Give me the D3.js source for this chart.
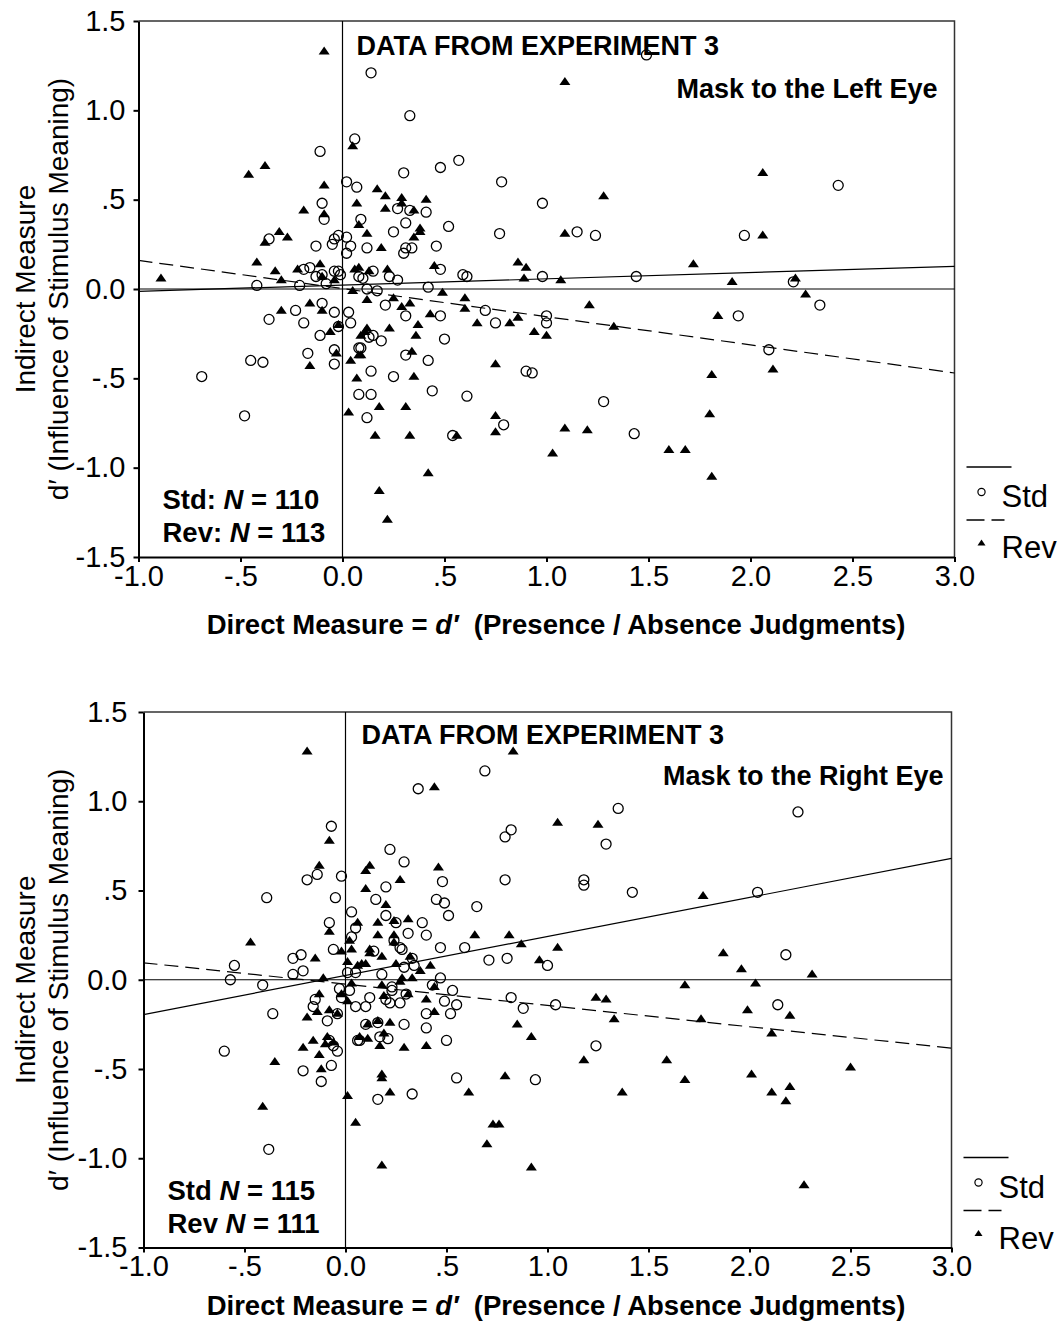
<!DOCTYPE html>
<html>
<head>
<script src="https://cdn.jsdelivr.net/npm/d3@7"></script>
<style>
  body { margin: 0; background: #fff; }
  svg { display: block; font-family: "Liberation Sans", Arial, sans-serif; }
  .axis path, .axis line { stroke: #000; stroke-width: 2px; }
  .axis text { font-size: 29px; fill: #000; font-family: "Liberation Sans", Arial, sans-serif; }
  .frame { fill: none; stroke: #333; stroke-width: 1.5px; }
  .ref { stroke: #000; stroke-width: 1.2px; }
  .fit { fill: none; stroke: #000; stroke-width: 1.2px; }
  .fit.rev { stroke-dasharray: 14,7; }
  .std-pt { fill: none; stroke: #000; stroke-width: 1.3px; }
  .rev-pt { fill: #000; stroke: none; }
  .ytitle { font-size: 28px; }
  .xtitle { font-size: 27.5px; font-weight: bold; white-space: pre; }
  .note { font-weight: bold; white-space: pre; font-size: 27px; }
  .count { font-size: 27.5px; }
  .legend text { font-size: 31px; }
</style>
</head>
<body>
<script>
// tick values and labels (same for both panels)
var xTicks = [-1, -0.5, 0, 0.5, 1, 1.5, 2, 2.5, 3];
var xTickLabels = ["-1.0", "-.5", "0.0", ".5", "1.0", "1.5", "2.0", "2.5", "3.0"];
var yTicks = [-1.5, -1, -0.5, 0, 0.5, 1, 1.5];
var yTickLabels = ["-1.5", "-1.0", "-.5", "0.0", ".5", "1.0", "1.5"];

// mask to the left eye: [direct d', indirect d']
var leftStd = [
  [0.06,0.84],[-0.11,0.77],[0.02,0.60],[0.07,0.57],[-0.10,0.48],[-0.09,0.39],[0.09,0.39],[-0.36,0.28],
  [-0.13,0.24],[-0.05,0.25],[-0.04,0.28],[-0.02,0.30],[0.02,0.29],[0.04,0.24],[0.02,0.20],[-0.19,0.11],
  [-0.16,0.12],[-0.13,0.07],[-0.10,0.08],[-0.08,0.03],[-0.04,0.10],[-0.02,0.10],[-0.01,0.08],[0.08,0.07],
  [-0.42,0.02],[-0.21,0.02],[-0.10,-0.08],[-0.23,-0.12],[-0.36,-0.17],[-0.19,-0.19],[-0.04,-0.13],[0.03,-0.13],
  [0.04,-0.19],[-0.02,-0.21],[-0.11,-0.26],[0.08,-0.33],[-0.04,-0.34],[-0.17,-0.36],[-0.45,-0.40],[-0.39,-0.41],
  [-0.04,-0.42],[-0.69,-0.49],[0.08,-0.59],[-0.48,-0.71],
  [0.21,-0.09],[0.31,-0.15],[0.48,-0.15],[0.70,-0.12],[0.75,-0.19],[1.00,-0.15],[1.00,-0.19],[0.15,-0.26],
  [0.13,-0.27],[0.19,-0.29],[0.50,-0.28],[0.09,-0.33],[0.31,-0.37],[0.42,-0.40],[0.90,-0.46],[0.93,-0.47],
  [0.14,-0.46],[0.25,-0.49],[0.44,-0.57],[0.14,-0.59],[0.61,-0.60],[1.28,-0.63],[0.12,-0.72],[0.79,-0.76],
  [0.54,-0.82],[1.43,-0.81],[2.34,-0.09],[1.94,-0.15],[2.09,-0.34],[2.43,0.58],[1.97,0.30],[2.21,0.04],
  [0.14,1.21],[1.49,1.31],[0.33,0.97],[0.57,0.72],[0.48,0.68],[0.30,0.65],[0.78,0.60],[0.98,0.48],
  [0.27,0.45],[0.33,0.44],[0.41,0.43],[0.25,0.32],[0.31,0.37],[0.52,0.35],[0.77,0.31],[1.15,0.32],
  [1.24,0.30],[0.12,0.23],[0.30,0.20],[0.31,0.23],[0.34,0.23],[0.46,0.24],[0.15,0.10],[0.23,0.07],
  [0.27,0.05],[0.10,0.06],[0.48,0.11],[0.59,0.08],[0.61,0.07],[0.98,0.07],[1.44,0.07],[0.12,0.00],
  [0.17,-0.01],[0.42,0.01]
];
var leftRev = [
  [-0.09,1.33],[0.05,0.80],[-0.46,0.64],[-0.38,0.69],[-0.09,0.58],[-0.19,0.44],[-0.09,0.42],[0.07,0.48],
  [0.08,0.36],[-0.31,0.32],[-0.27,0.29],[-0.38,0.26],[-0.42,0.15],[-0.33,0.10],[-0.30,0.05],[-0.22,0.11],
  [-0.11,0.14],[-0.10,0.07],[-0.04,0.05],[0.06,0.11],[-0.89,0.06],[0.05,-0.01],[-0.16,-0.08],[-0.10,-0.12],
  [-0.30,-0.12],[-0.02,-0.20],[-0.06,-0.24],[0.09,-0.26],[-0.03,-0.36],[0.08,-0.37],[0.04,-0.40],[-0.16,-0.43],
  [0.07,-0.50],[0.03,-0.69],
  [0.29,-0.10],[0.43,-0.14],[0.60,-0.11],[0.37,-0.20],[0.23,-0.22],[0.66,-0.19],[0.82,-0.19],[0.86,-0.16],
  [1.21,-0.09],[1.33,-0.21],[0.12,-0.22],[0.11,-0.24],[0.36,-0.26],[0.94,-0.24],[1.00,-0.26],[0.09,-0.37],
  [0.34,-0.35],[0.75,-0.42],[0.35,-0.49],[0.18,-0.66],[0.31,-0.66],[0.75,-0.71],[0.75,-0.80],[0.16,-0.82],
  [0.33,-0.82],[0.56,-0.82],[1.09,-0.78],[1.20,-0.79],[1.03,-0.92],[1.60,-0.90],[1.68,-0.90],[0.42,-1.03],
  [0.18,-1.13],[0.22,-1.29],
  [1.84,-0.15],[2.11,-0.45],[1.81,-0.48],[1.80,-0.70],[1.81,-1.05],[2.06,0.65],[2.06,0.30],[1.91,0.04],
  [2.22,0.06],[2.27,-0.03],
  [1.09,1.16],[0.17,0.56],[0.21,0.52],[0.29,0.51],[0.41,0.50],[1.28,0.52],[0.29,0.48],[0.21,0.45],
  [0.35,0.44],[0.12,0.31],[0.38,0.34],[0.38,0.32],[0.35,0.29],[1.09,0.31],[0.19,0.23],[0.08,0.12],
  [0.13,0.10],[0.22,0.11],[0.45,0.13],[0.86,0.15],[0.90,0.12],[0.89,0.06],[1.07,0.05],[1.72,0.14],
  [0.12,-0.06],[0.49,-0.02],[0.25,-0.05],[0.60,-0.05],[0.33,-0.08]
];

// mask to the right eye
var rightStd = [
  [-0.07,0.86],[-0.14,0.59],[-0.19,0.56],[-0.02,0.58],[-0.39,0.46],[-0.05,0.46],[0.03,0.38],[-0.08,0.32],
  [0.05,0.29],[0.03,0.24],[-0.06,0.17],[-0.26,0.12],[-0.22,0.14],[-0.55,0.08],[-0.26,0.03],[-0.21,0.05],
  [0.01,0.04],[0.05,0.04],[-0.57,0.00],[-0.41,-0.03],[-0.03,-0.05],[0.02,-0.06],[-0.02,-0.10],[-0.15,-0.11],
  [-0.16,-0.15],[0.05,-0.15],[-0.36,-0.19],[-0.04,-0.19],
  [-0.09,-0.23],[-0.08,-0.34],[-0.06,-0.37],[-0.04,-0.40],[0.06,-0.34],[-0.60,-0.40],[-0.21,-0.51],[-0.07,-0.48],
  [-0.12,-0.57],[-0.38,-0.95],
  [0.10,-0.15],[0.12,-0.10],[0.20,-0.11],[0.22,-0.13],[0.27,-0.13],[0.23,-0.06],[0.30,-0.08],[0.49,-0.12],
  [0.55,-0.14],[0.53,-0.06],[0.82,-0.10],[0.88,-0.16],[1.04,-0.14],[0.40,-0.19],[0.40,-0.27],[0.52,-0.19],
  [0.10,-0.25],[0.16,-0.24],[0.29,-0.25],[0.07,-0.34],[0.17,-0.32],[0.21,-0.33],[0.50,-0.34],[1.24,-0.37],
  [0.55,-0.55],[0.94,-0.56],[0.33,-0.64],[0.16,-0.67],
  [2.14,-0.14],[2.24,0.94],[2.04,0.49],[2.18,0.14],
  [0.69,1.17],[0.36,1.07],[1.35,0.96],[0.82,0.84],[0.79,0.80],[1.29,0.76],[0.22,0.73],[0.29,0.66],
  [0.79,0.56],[1.18,0.56],[1.18,0.53],[0.48,0.55],[0.20,0.52],[1.42,0.49],[0.15,0.45],[0.45,0.45],
  [0.49,0.43],[0.51,0.36],[0.65,0.41],[0.20,0.36],[0.25,0.32],[0.38,0.32],[0.31,0.26],[0.40,0.25],
  [0.24,0.22],[0.27,0.18],[0.28,0.17],[0.47,0.18],[0.59,0.18],[0.71,0.11],[0.80,0.12],[1.00,0.08],
  [0.33,0.12],[0.34,0.08],[0.29,0.07],[0.14,0.16],[0.18,0.03],[0.47,0.01],[0.43,-0.03],[0.23,-0.04]
];
var rightRev = [
  [-0.19,1.28],[-0.08,0.78],[-0.13,0.64],[-0.08,0.27],[0.06,0.32],[-0.47,0.21],[0.02,0.22],[-0.02,0.16],
  [0.03,0.17],[-0.15,0.12],[0.01,0.10],[0.06,0.08],[-0.11,0.01],[0.03,-0.02],[-0.13,-0.08],[-0.02,-0.08],
  [0.01,-0.12],[-0.14,-0.18],[-0.08,-0.17],[-0.04,-0.19],[-0.19,-0.21],
  [-0.16,-0.34],[-0.21,-0.38],[-0.13,-0.42],[-0.09,-0.32],[-0.06,-0.35],[-0.10,-0.36],[-0.35,-0.46],[-0.12,-0.50],
  [0.01,-0.65],[-0.41,-0.71],[0.05,-0.80],
  [0.19,-0.09],[0.31,-0.08],[0.40,-0.11],[1.24,-0.10],[1.29,-0.11],[1.33,-0.22],[0.44,-0.18],[0.11,-0.25],
  [0.16,-0.23],[0.22,-0.24],[0.07,-0.32],[0.11,-0.33],[0.19,-0.30],[0.17,-0.37],[0.29,-0.38],[0.40,-0.37],
  [0.85,-0.25],[0.92,-0.32],[1.18,-0.45],[1.59,-0.45],[1.68,-0.56],[0.18,-0.53],[0.18,-0.55],[0.22,-0.63],
  [0.61,-0.63],[0.79,-0.54],[1.37,-0.63],[0.73,-0.81],[0.76,-0.81],[0.70,-0.92],[0.18,-1.04],[0.92,-1.05],
  [1.99,-0.17],[2.20,-0.20],[2.11,-0.30],[1.76,-0.22],[2.50,-0.49],[2.01,-0.53],[2.11,-0.63],[2.20,-0.60],
  [2.18,-0.68],[2.27,-1.15],
  [1.77,0.47],[1.87,0.15],[1.96,0.06],[2.31,0.03],[2.03,-0.02],
  [0.83,1.28],[0.44,1.08],[1.05,0.88],[1.25,0.87],[0.12,0.64],[0.10,0.61],[0.46,0.63],[0.27,0.56],
  [0.10,0.51],[0.20,0.42],[0.16,0.32],[0.24,0.33],[0.31,0.34],[0.16,0.25],[0.24,0.25],[0.64,0.25],
  [0.81,0.25],[0.24,0.21],[0.87,0.20],[1.05,0.18],[0.12,0.17],[0.18,0.13],[0.12,0.15],[0.32,0.13],
  [0.96,0.11],[0.08,0.09],[0.10,0.09],[0.25,0.09],[0.42,0.08],[0.37,0.05],[0.33,0.01],[0.28,0.01],
  [0.27,-0.01],[1.68,-0.03],[0.18,-0.03],[0.44,-0.04]
];

// fitted regression lines, end points at x = -1 and x = 3
var leftFitStd = [[-1, -0.013], [3, 0.127]];
var leftFitRev = [[-1, 0.16], [3, -0.47]];
var rightFitStd = [[-1, -0.195], [3, 0.68]];
var rightFitRev = [[-1, 0.095], [3, -0.383]];

var panelTitles = ["Mask to the Left Eye", "Mask to the Right Eye"];
var countLines = [["Std: ", "110", "Rev: ", "113"], ["Std ", "115", "Rev ", "111"]];

var svg = d3.select("body").append("svg")
    .attr("width", 1060)
    .attr("height", 1325);

var triPath = function(w, h) {
  return "M0," + (-h * 0.6) + "L" + (w / 2) + "," + (h * 0.4) + "L" + (-w / 2) + "," + (h * 0.4) + "Z";
};

function draw_panel(p) {
  var g = svg.append("g");

  var x = d3.scaleLinear().domain([-1, 3]).range([p.left, p.right]);
  var y = d3.scaleLinear().domain([-1.5, 1.5]).range([p.bottom, p.top]);

  // top / right frame
  g.append("path").attr("class", "frame")
    .attr("d", "M" + p.left + "," + p.top + "H" + p.right + "V" + p.bottom);

  // zero reference lines
  g.append("line").attr("class", "ref")
    .attr("x1", x(-1)).attr("x2", x(3)).attr("y1", y(0)).attr("y2", y(0));
  g.append("line").attr("class", "ref")
    .attr("x1", x(0)).attr("x2", x(0)).attr("y1", y(-1.5)).attr("y2", y(1.5));

  // axes
  g.append("g").attr("class", "axis")
    .attr("transform", "translate(0," + p.bottom + ")")
    .call(d3.axisBottom(x).tickValues(xTicks)
      .tickFormat(function(d, i) { return xTickLabels[i]; })
      .tickSize(5).tickSizeOuter(0).tickPadding(3));
  g.append("g").attr("class", "axis")
    .attr("transform", "translate(" + p.left + ",0)")
    .call(d3.axisLeft(y).tickValues(yTicks)
      .tickFormat(function(d, i) { return yTickLabels[i]; })
      .tickSize(5).tickSizeOuter(0).tickPadding(p.ypad));

  // regression lines
  var line = d3.line().x(function(d) { return x(d[0]); }).y(function(d) { return y(d[1]); });
  g.append("path").attr("class", "fit std").attr("d", line(p.fitStd));
  g.append("path").attr("class", "fit rev").attr("d", line(p.fitRev));

  // points
  g.selectAll(".std-pt").data(p.std).enter().append("circle")
    .attr("class", "std-pt")
    .attr("r", 5)
    .attr("cx", function(d) { return x(d[0]); })
    .attr("cy", function(d) { return y(d[1]); });
  g.selectAll(".rev-pt").data(p.rev).enter().append("path")
    .attr("class", "rev-pt")
    .attr("d", triPath(11, 8))
    .attr("transform", function(d) { return "translate(" + x(d[0]) + "," + y(d[1]) + ")"; });

  // annotations
  g.append("text").attr("class", "note")
    .attr("x", p.left + 218).attr("y", p.top + p.noteY[0])
    .text("DATA FROM EXPERIMENT 3");
  g.append("text").attr("class", "note")
    .attr("x", p.right - p.titleRight).attr("y", p.top + p.noteY[1])
    .attr("text-anchor", "end")
    .text(p.title);

  var c = p.counts;
  [[c[0], c[1]], [c[2], c[3]]].forEach(function(row, i) {
    var t = g.append("text").attr("class", "note count")
      .attr("x", p.left + 24).attr("y", p.bottom - 48 + i * 33);
    t.append("tspan").text(row[0]);
    t.append("tspan").style("font-style", "italic").text("N");
    t.append("tspan").text(" = " + row[1]);
  });

  // y axis title
  var yt = g.append("text").attr("class", "ytitle")
    .attr("transform", "translate(" + 35 + "," + y(0) + ") rotate(-90)")
    .attr("text-anchor", "middle");
  yt.append("tspan").attr("x", 0).attr("y", 0).text("Indirect Measure");
  yt.append("tspan").attr("x", 0).attr("y", 33).text("d\u2032 (Influence of Stimulus Meaning)");

  // x axis title
  var xt = g.append("text").attr("class", "xtitle")
    .attr("x", 556).attr("y", p.xTitleY)
    .attr("text-anchor", "middle");
  xt.append("tspan").text("Direct Measure = ");
  xt.append("tspan").style("font-style", "italic").text("d\u2032");
  xt.append("tspan").text("  (Presence / Absence Judgments)");

  // legend
  var lg = g.append("g").attr("class", "legend")
    .attr("transform", "translate(" + p.right + "," + p.bottom + ")");
  lg.append("line").attr("x1", 12).attr("x2", 57).attr("y1", -90).attr("y2", -90)
    .attr("stroke", "#000").attr("stroke-width", 1.3);
  lg.append("circle").attr("cx", 27).attr("cy", -65).attr("r", 3.6)
    .attr("fill", "none").attr("stroke", "#000").attr("stroke-width", 1.2);
  lg.append("text").attr("x", 47).attr("y", -50).text("Std");
  lg.append("line").attr("x1", 12).attr("x2", 50).attr("y1", -37).attr("y2", -37)
    .attr("stroke", "#000").attr("stroke-width", 1.3).attr("stroke-dasharray", "18,7");
  lg.append("path").attr("d", triPath(8, 6)).attr("transform", "translate(27,-14)");
  lg.append("text").attr("x", 47).attr("y", 1).text("Rev");
}

var panels = [
  { left: 138.5, right: 954.5, top: 21, bottom: 557, ypad: 8,
    noteY: [34, 77], titleRight: 17, xTitleY: 634,
    std: leftStd, rev: leftRev, fitStd: leftFitStd, fitRev: leftFitRev,
    title: panelTitles[0], counts: countLines[0] },
  { left: 143.5, right: 951.5, top: 712, bottom: 1247.5, ypad: 11,
    noteY: [32, 73], titleRight: 8, xTitleY: 1315,
    std: rightStd, rev: rightRev, fitStd: rightFitStd, fitRev: rightFitRev,
    title: panelTitles[1], counts: countLines[1] }
];

panels.forEach(draw_panel);
</script>
</body>
</html>
